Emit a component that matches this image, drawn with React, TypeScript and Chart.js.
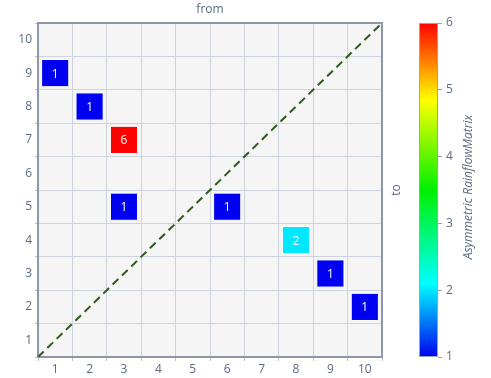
import React, { useEffect, useRef } from 'react';
import { Chart, registerables } from 'chart.js';

Chart.register(...registerables);

const fromTicks = [1, 2, 3, 4, 5, 6, 7, 8, 9, 10];
const toTicks = [1, 2, 3, 4, 5, 6, 7, 8, 9, 10];
const cellFrom = [1, 2, 3, 3, 6, 8, 9, 10];
const cellTo = [9, 8, 7, 5, 5, 4, 3, 2];
const cellCount = [1, 1, 6, 1, 1, 2, 1, 1];
const colorTicks = [1, 2, 3, 4, 5, 6];
const diagonal = [0.5, 10.5];

const FONT = '"Open Sans", "Noto Sans", sans-serif';
const TEXT = '#5b6b80';
const BORDER = '#8d97a6';

const stops: [number, [number, number, number]][] = [
  [0, [0, 0, 240]],
  [0.22, [0, 255, 255]],
  [0.5, [0, 240, 0]],
  [0.77, [255, 255, 0]],
  [1, [255, 0, 0]],
];

function colorFor(v: number): string {
  const t = Math.max(0, Math.min(1, (v - 1) / 5));
  for (let i = 1; i < stops.length; i++) {
    if (t <= stops[i][0]) {
      const [t0, c0] = stops[i - 1];
      const [t1, c1] = stops[i];
      const f = (t - t0) / (t1 - t0);
      const c = c0.map((a, k) => Math.round(a + (c1[k] - a) * f));
      return `rgb(${c[0]},${c[1]},${c[2]})`;
    }
  }
  return 'rgb(255,0,0)';
}

const decorPlugin = {
  id: 'decor',
  beforeDraw(chart: any) {
    const { ctx, chartArea: a } = chart;
    ctx.save();
    ctx.fillStyle = '#f5f5f5';
    ctx.fillRect(a.left, a.top, a.right - a.left, a.bottom - a.top);
    ctx.restore();
  },
  afterDraw(chart: any) {
    const { ctx, chartArea: a } = chart;
    const cb = chart.scales.cb;
    const yTo = chart.scales.yTo;
    ctx.save();
    const barW = 19;
    const x0 = cb.left - barW;
    const yTop = cb.getPixelForValue(6);
    const yBot = cb.getPixelForValue(1);
    const g = ctx.createLinearGradient(0, yBot, 0, yTop);
    stops.forEach(([t, c]) => g.addColorStop(t, `rgb(${c[0]},${c[1]},${c[2]})`));
    ctx.fillStyle = g;
    ctx.fillRect(x0, yTop, barW, yBot - yTop);
    ctx.strokeStyle = '#9aa3b0';
    ctx.lineWidth = 1;
    ctx.strokeRect(x0 + 0.5, yTop + 0.5, barW - 1, yBot - yTop - 1);
    const midY = (a.top + a.bottom) / 2;
    ctx.fillStyle = TEXT;
    ctx.textAlign = 'center';
    ctx.textBaseline = 'middle';
    ctx.font = `12px ${FONT}`;
    ctx.save();
    ctx.translate(yTo.left + 15, midY);
    ctx.rotate(-Math.PI / 2);
    ctx.fillText('to', 0, 0);
    ctx.restore();
    ctx.save();
    ctx.translate(cb.left + 31, midY - 3);
    ctx.rotate(-Math.PI / 2);
    ctx.font = `italic 12px ${FONT}`;
    ctx.fillText('Asymmetric RainflowMatrix', 0, 0);
    ctx.restore();
    ctx.restore();
  },
  afterDatasetsDraw(chart: any) {
    const { ctx } = chart;
    const meta = chart.getDatasetMeta(1);
    ctx.save();
    ctx.fillStyle = '#ffffff';
    ctx.font = `12px ${FONT}`;
    ctx.textAlign = 'center';
    ctx.textBaseline = 'middle';
    meta.data.forEach((el: any, i: number) => {
      ctx.fillText(String(cellCount[i]), el.x, el.y + 1);
    });
    ctx.restore();
  },
};

export default function App() {
  const ref = useRef<HTMLCanvasElement>(null);
  useEffect(() => {
    if (!ref.current) return;
    const tickFont = { family: FONT, size: 12 };
    const chart = new Chart(ref.current, {
      type: 'scatter',
      data: {
        datasets: [
          {
            type: 'line',
            data: diagonal.map((v) => ({ x: v, y: v })),
            borderColor: '#2f5a1c',
            borderWidth: 2,
            borderDash: [8, 5],
            pointRadius: 0,
            fill: false,
            order: 2,
          } as any,
          {
            type: 'scatter',
            data: cellFrom.map((f, i) => ({ x: f, y: cellTo[i] })),
            pointStyle: 'rect',
            pointRadius: 19.2,
            pointHoverRadius: 19.2,
            backgroundColor: cellCount.map((c) => colorFor(c)),
            borderColor: '#ffffff',
            borderWidth: 1,
            order: 1,
          } as any,
        ],
      },
      options: {
        responsive: false,
        animation: false,
        layout: { padding: 0 },
        plugins: { legend: { display: false }, tooltip: { enabled: false } },
        scales: {
          x: {
            type: 'linear',
            position: 'bottom',
            min: 0.5,
            max: 10.5,
            afterBuildTicks: (s: any) => {
              s.ticks = fromTicks.map((v) => ({ value: v }));
            },
            afterFit: (s: any) => {
              s.height = 21;
            },
            grid: { offset: true, color: '#cdd4de', tickLength: 4, tickColor: '#b8c0cc' },
            border: { color: BORDER, width: 2 },
            ticks: { color: TEXT, font: tickFont, padding: 1, autoSkip: false, maxRotation: 0 },
          },
          xTop: {
            type: 'linear',
            position: 'top',
            min: 0.5,
            max: 10.5,
            afterFit: (s: any) => {
              s.height = 23;
            },
            grid: { drawOnChartArea: false, drawTicks: false },
            border: { color: BORDER, width: 2 },
            ticks: { display: false },
            title: { display: true, text: 'from', color: TEXT, font: tickFont, padding: { top: 2, bottom: 0 } },
          },
          y: {
            type: 'linear',
            position: 'left',
            min: 0.5,
            max: 10.5,
            afterBuildTicks: (s: any) => {
              s.ticks = toTicks.map((v) => ({ value: v }));
            },
            afterFit: (s: any) => {
              s.width = 38;
            },
            grid: { offset: true, color: '#cdd4de', tickLength: 3, tickColor: '#b8c0cc' },
            border: { color: BORDER, width: 2 },
            ticks: { color: TEXT, font: tickFont, padding: 3, autoSkip: false },
          },
          yTo: {
            type: 'linear',
            position: 'right',
            min: 0.5,
            max: 10.5,
            weight: 0,
            afterFit: (s: any) => {
              s.width = 56;
            },
            grid: { drawOnChartArea: false, drawTicks: false },
            border: { color: BORDER, width: 2 },
            ticks: { display: false },
          },
          cb: {
            type: 'linear',
            position: 'right',
            min: 1,
            max: 6,
            weight: 1,
            afterBuildTicks: (s: any) => {
              s.ticks = colorTicks.map((v) => ({ value: v }));
            },
            afterFit: (s: any) => {
              s.width = 53;
            },
            grid: { drawOnChartArea: false, tickLength: 4, tickColor: '#9aa3b0' },
            border: { display: false },
            ticks: { color: TEXT, font: tickFont, padding: 4 },
          },
        },
      } as any,
      plugins: [decorPlugin],
    });
    return () => chart.destroy();
  }, []);
  return (
    <div style={{ position: 'fixed', left: 0, top: 0, width: 491, height: 378, background: '#fff' }}>
      <canvas ref={ref} width={491} height={378} style={{ display: 'block' }} />
    </div>
  );
}
